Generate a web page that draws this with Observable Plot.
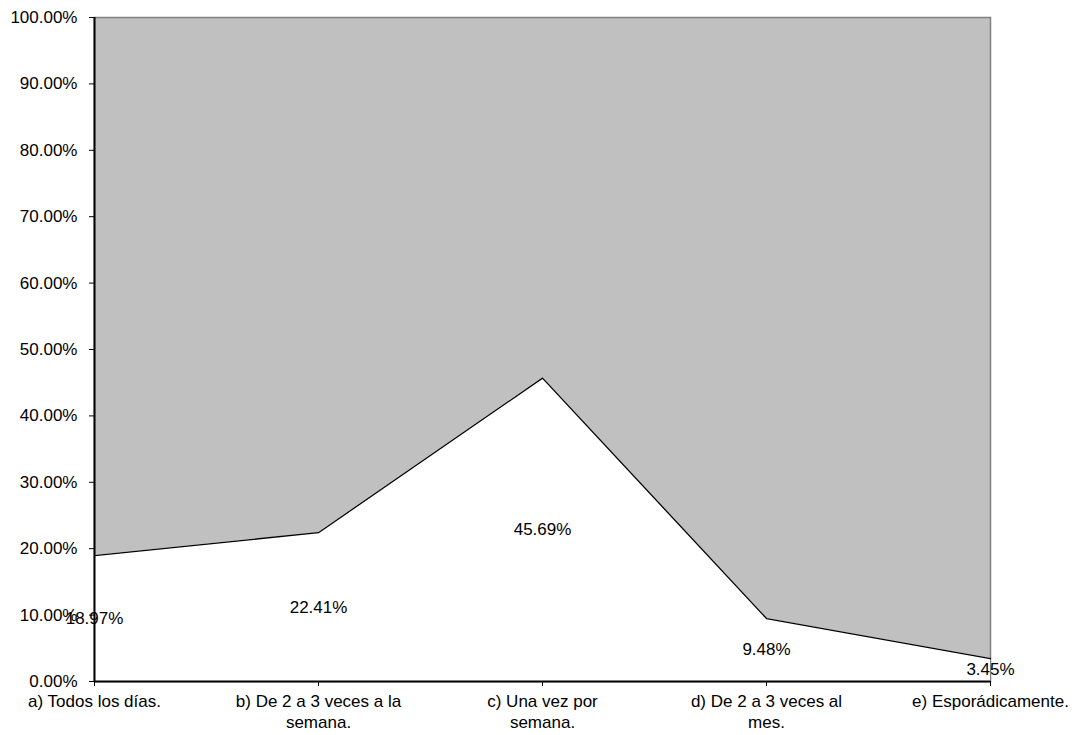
<!DOCTYPE html>
<html>
<head>
<meta charset="utf-8">
<script src="https://cdn.jsdelivr.net/npm/d3@7"></script>
<script src="https://cdn.jsdelivr.net/npm/@observablehq/plot@0.6"></script>
<style>
  html, body { margin: 0; padding: 0; background: #fff; }
  #chart { width: 1078px; height: 735px; }
</style>
</head>
<body>
<div id="chart"></div>
<script>
const categories = ["a", "b", "c", "d", "e"];
const categoryLabels = [
  "a) Todos los días.",
  "b) De 2 a 3 veces a la\nsemana.",
  "c) Una vez por\nsemana.",
  "d) De 2 a 3 veces al\nmes.",
  "e) Esporádicamente."
];
const values = [0.1897, 0.2241, 0.4569, 0.0948, 0.0345];
const yTicks = [0, 0.1, 0.2, 0.3, 0.4, 0.5, 0.6, 0.7, 0.8, 0.9, 1.0];

const data = categories.map((c, i) => ({cat: c, value: values[i]}));
const labelOf = Object.fromEntries(categories.map((c, i) => [c, categoryLabels[i]]));
const fmt = d3.format(".2%");

const chart = Plot.plot({
  width: 1078,
  height: 735,
  marginTop: 17,
  marginBottom: 54,
  marginLeft: 94,
  marginRight: 88,
  style: {fontFamily: "'Liberation Sans', Arial, sans-serif", fontSize: "17px", color: "#000", background: "#fff"},
  x: {type: "point", domain: categories, padding: 0},
  y: {domain: [0, 1]},
  marks: [
    Plot.frame({fill: "#c0c0c0", stroke: "#808080", strokeWidth: 1.5}),
    Plot.areaY(data, {x: "cat", y: "value", fill: "#ffffff"}),
    Plot.lineY(data, {x: "cat", y: "value", stroke: "#000", strokeWidth: 1.3}),
    Plot.ruleY([0], {stroke: "#000", strokeWidth: 2}),
    Plot.ruleX([categories[0]], {stroke: "#000", strokeWidth: 2}),
    Plot.axisY({ticks: yTicks, tickFormat: fmt, tickSize: 5, tickPadding: 12, label: null, fill: "#000", stroke: "#000"}),
    Plot.axisX({tickFormat: d => labelOf[d], tickSize: 5, tickPadding: 6, lineHeight: 1.22, label: null, fill: "#000", stroke: "#000"}),
    Plot.text(data, {x: "cat", y: d => d.value / 2, text: d => fmt(d.value), fill: "#000", fontSize: 17})
  ]
});
document.getElementById("chart").appendChild(chart);
</script>
</body>
</html>
